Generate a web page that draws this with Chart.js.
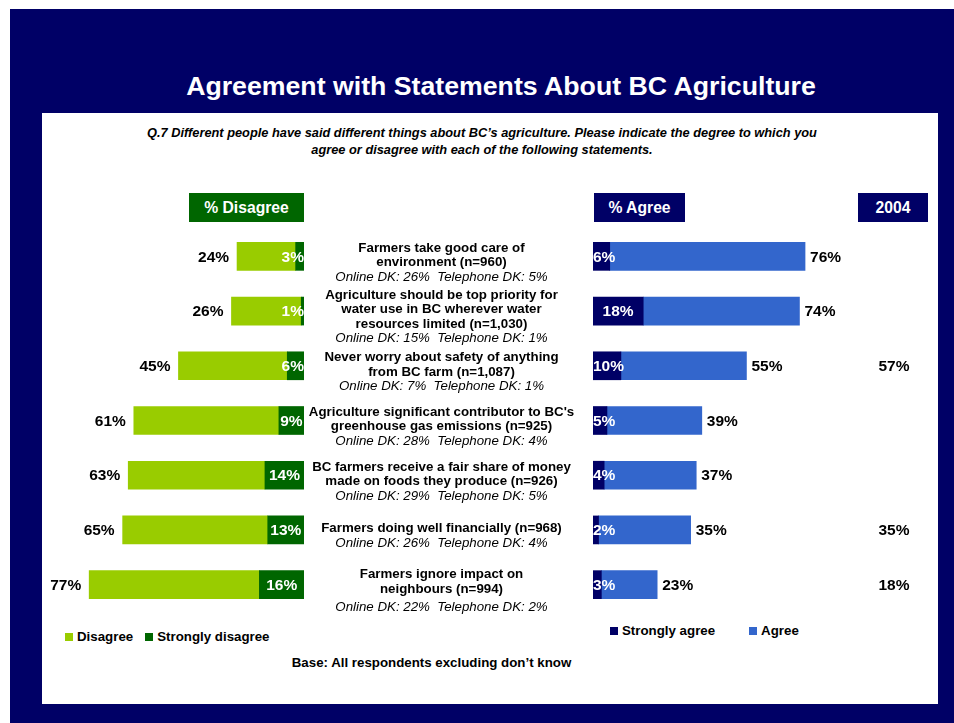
<!DOCTYPE html>
<html>
<head>
<meta charset="utf-8">
<title>Agreement with Statements About BC Agriculture</title>
<script src="https://cdn.jsdelivr.net/npm/chart.js@4.4.1/dist/chart.umd.min.js"></script>
<style>
  html, body { margin: 0; padding: 0; background: #ffffff; }
  body { width: 954px; height: 723px; position: relative; overflow: hidden;
         font-family: "Liberation Sans", Arial, Helvetica, sans-serif; color: #000; }
  .abs { position: absolute; white-space: nowrap; }
  #frame { left: 10px; top: 9px; width: 944px; height: 714px; background: #000066; }
  #panel { left: 42px; top: 113px; width: 896px; height: 591px; background: #ffffff; }
  #title { left: 0; width: 1002px; top: 71px; line-height: 30px; text-align: center;
           color: #ffffff; font-weight: bold; font-size: 26.7px; }
  #question { left: 0; width: 964px; top: 124px; line-height: 17px; text-align: center;
              font-weight: bold; font-style: italic; font-size: 12.8px; }
  .head { top: 193px; height: 29px; display: flex; align-items: center; justify-content: center;
          color: #ffffff; font-weight: bold; font-size: 15.7px; }
  #headDis { left: 189px; width: 115px; background: #006600; }
  #headAgr { left: 594px; width: 91px; background: #000066; }
  #head04 { left: 858px; width: 70px; background: #000066; }
  .stmt { width: 320px; text-align: center; font-size: 13.3px; line-height: 14.4px; }
  .stmt .q { font-weight: bold; }
  .stmt .dk { font-style: italic; white-space: pre; }
  .stmt.last .dk { margin-top: 4px; }
  .legend { display: flex; align-items: center; font-weight: bold; font-size: 13.3px; line-height: 16px; }
  .legend .item { display: flex; align-items: center; }
  .legend .sw { width: 8px; height: 8px; margin-right: 4px; }
  #legLeft { left: 65px; top: 629px; }
  #legLeft .item + .item { margin-left: 12px; }
  #legRight { left: 610px; top: 623px; }
  #legRight .item + .item { margin-left: 34px; }
  #base { left: 0; width: 863px; top: 655px; line-height: 16px; text-align: center;
          font-weight: bold; font-size: 13.3px; }
  canvas { position: absolute; }
</style>
</head>
<body>
<script>
// Survey results, one entry per statement (top to bottom)
const statements = [
  ["Farmers take good care of", "environment (n=960)"],
  ["Agriculture should be top priority for", "water use in BC wherever water", "resources limited (n=1,030)"],
  ["Never worry about safety of anything", "from BC farm (n=1,087)"],
  ["Agriculture significant contributor to BC's", "greenhouse gas emissions (n=925)"],
  ["BC farmers receive a fair share of money", "made on foods they produce (n=926)"],
  ["Farmers doing well financially (n=968)"],
  ["Farmers ignore impact on", "neighbours (n=994)"]
];
const onlineDK = [26, 15, 7, 28, 29, 26, 22];
const telephoneDK = [5, 1, 1, 4, 5, 4, 2];

// % disagree (total) and the strongly-disagree part of it
const disagreeTotal = [24, 26, 45, 61, 63, 65, 77];
const stronglyDisagree = [3, 1, 6, 9, 14, 13, 16];

// % agree (total) and the strongly-agree part of it
const agreeTotal = [76, 74, 55, 39, 37, 35, 23];
const stronglyAgree = [6, 18, 10, 5, 4, 2, 3];

// 2004 agreement, where the statement was asked
const agree2004 = [null, null, 57, null, null, 35, 18];

const seriesNames = {
  disagree: "Disagree", strongDisagree: "Strongly disagree",
  strongAgree: "Strongly agree", agree: "Agree"
};
const colors = {
  disagree: "#99CC00", strongDisagree: "#006600",
  strongAgree: "#000066", agree: "#3366CC"
};
</script>

<div id="frame" class="abs"></div>
<div id="panel" class="abs"></div>
<div id="title" class="abs">Agreement with Statements About BC Agriculture</div>
<div id="question" class="abs">Q.7 Different people have said different things about BC’s agriculture. Please indicate the degree to which you<br>agree or disagree with each of the following statements.</div>
<div id="headDis" class="abs head">% Disagree</div>
<div id="headAgr" class="abs head">% Agree</div>
<div id="head04" class="abs head">2004</div>

<canvas id="leftChart" width="279" height="383" style="left:25px;top:229px;"></canvas>
<canvas id="rightChart" width="345" height="383" style="left:593px;top:229px;"></canvas>

<div id="legLeft" class="abs legend"></div>
<div id="legRight" class="abs legend"></div>
<div id="base" class="abs">Base: All respondents excluding don’t know</div>

<script>
const VALUE_FONT = 'bold 15.5px "Liberation Sans", Arial, sans-serif';
const PCT = v => v + "%";
const COL2004_X = 301;   // centre of the 2004 column, relative to the right canvas

// Draws the value labels: strongly-* inside the bar, totals outside the bar end
function makeLabelPlugin(side) {
  return {
    id: "valueLabels_" + side,
    afterDatasetsDraw(chart) {
      const ctx = chart.ctx;
      const area = chart.chartArea;
      const strongMeta = chart.getDatasetMeta(0);
      const outerMeta = chart.getDatasetMeta(1);
      const strongVals = side === "left" ? stronglyDisagree : stronglyAgree;
      const totalVals = side === "left" ? disagreeTotal : agreeTotal;
      ctx.save();
      ctx.font = VALUE_FONT;
      ctx.textBaseline = "middle";
      strongMeta.data.forEach((bar, i) => {
        const y = bar.y;
        // inside label
        const segL = Math.min(bar.x, bar.base), segR = Math.max(bar.x, bar.base);
        const txt = PCT(strongVals[i]);
        const w = ctx.measureText(txt).width;
        let tx = (segL + segR) / 2 - w / 2;
        if (side === "left" && tx + w > area.right) tx = area.right - w;
        if (side === "right" && tx < area.left) tx = area.left;
        ctx.fillStyle = "#ffffff";
        ctx.textAlign = "left";
        ctx.fillText(txt, tx, y + 1);
        // total label
        const outer = outerMeta.data[i];
        ctx.fillStyle = "#000000";
        if (side === "left") {
          ctx.textAlign = "right";
          ctx.fillText(PCT(totalVals[i]), Math.min(outer.x, outer.base) - 8, y + 1);
        } else {
          ctx.textAlign = "left";
          ctx.fillText(PCT(totalVals[i]), Math.max(outer.x, outer.base) + 5, y + 1);
          if (agree2004[i] !== null) {
            ctx.textAlign = "center";
            ctx.fillText(PCT(agree2004[i]), area.left + COL2004_X, y + 1);
          }
        }
      });
      ctx.restore();
    }
  };
}

function barOptions(reverse, rightPad) {
  return {
    indexAxis: "y",
    responsive: false,
    animation: false,
    events: [],
    layout: { padding: { left: 0, right: rightPad, top: 0, bottom: 0 } },
    datasets: { bar: { barThickness: 28, borderWidth: 0, borderSkipped: false } },
    scales: {
      x: { stacked: true, min: 0, max: 100, reverse: reverse, display: false },
      y: { stacked: true, display: false }
    },
    plugins: { legend: { display: false }, tooltip: { enabled: false } }
  };
}

const categoryLabels = statements.map(s => s.join(" "));

const leftChart = new Chart(document.getElementById("leftChart"), {
  type: "bar",
  data: {
    labels: categoryLabels,
    datasets: [
      { label: seriesNames.strongDisagree, data: stronglyDisagree,
        backgroundColor: colors.strongDisagree, stack: "dis" },
      { label: seriesNames.disagree, data: disagreeTotal.map((t, i) => t - stronglyDisagree[i]),
        backgroundColor: colors.disagree, stack: "dis" }
    ]
  },
  options: barOptions(true, 0),
  plugins: [makeLabelPlugin("left")]
});

const rightChart = new Chart(document.getElementById("rightChart"), {
  type: "bar",
  data: {
    labels: categoryLabels,
    datasets: [
      { label: seriesNames.strongAgree, data: stronglyAgree,
        backgroundColor: colors.strongAgree, stack: "agr" },
      { label: seriesNames.agree, data: agreeTotal.map((t, i) => t - stronglyAgree[i]),
        backgroundColor: colors.agree, stack: "agr" }
    ]
  },
  options: barOptions(false, 66),
  plugins: [makeLabelPlugin("right")]
});

// Statement text, centred between the two bar groups on each row
const canvasTop = 229;
const STMT_CENTER_X = 441.5;
const yScale = leftChart.scales.y;
statements.forEach((lines, i) => {
  const div = document.createElement("div");
  div.className = "abs stmt" + (i === statements.length - 1 ? " last" : "");
  lines.forEach(l => {
    const q = document.createElement("div");
    q.className = "q";
    q.textContent = l;
    div.appendChild(q);
  });
  const dk = document.createElement("div");
  dk.className = "dk";
  dk.textContent = "Online DK: " + onlineDK[i] + "%  Telephone DK: " + telephoneDK[i] + "%";
  div.appendChild(dk);
  document.body.appendChild(div);
  const rowY = canvasTop + yScale.getPixelForValue(i);
  div.style.left = (STMT_CENTER_X - 160) + "px";
  div.style.top = (rowY + 6 - div.offsetHeight / 2) + "px";
});

// Legends built from the chart datasets
function buildLegend(el, chart, order) {
  order.forEach(idx => {
    const ds = chart.data.datasets[idx];
    const item = document.createElement("div");
    item.className = "item";
    const sw = document.createElement("span");
    sw.className = "sw";
    sw.style.background = ds.backgroundColor;
    const t = document.createElement("span");
    t.textContent = ds.label;
    item.appendChild(sw);
    item.appendChild(t);
    el.appendChild(item);
  });
}
buildLegend(document.getElementById("legLeft"), leftChart, [1, 0]);
buildLegend(document.getElementById("legRight"), rightChart, [0, 1]);
</script>
</body>
</html>
